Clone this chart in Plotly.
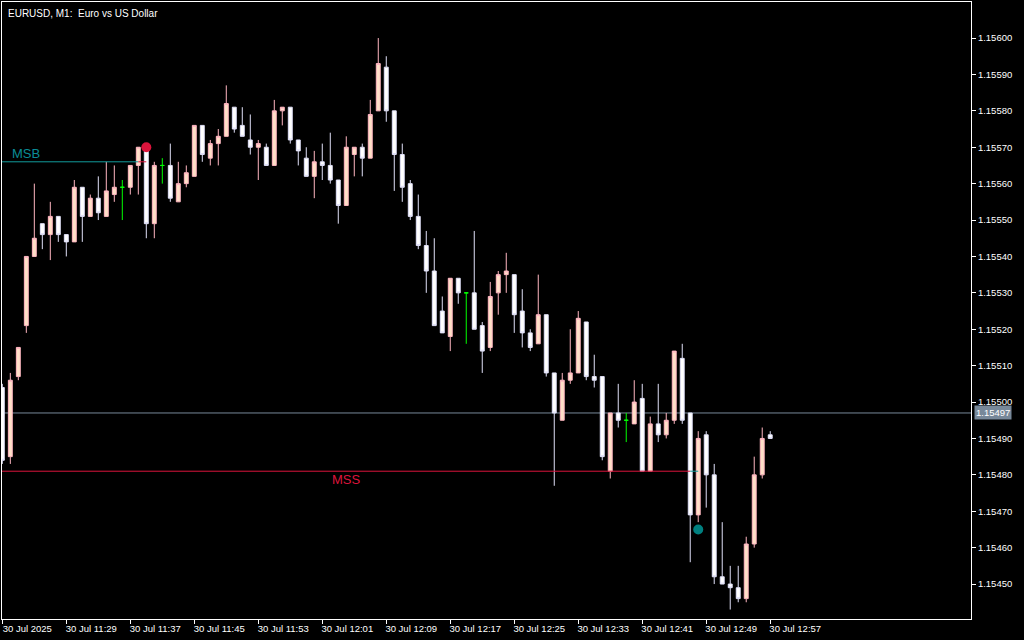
import plotly.graph_objects as go
import pandas as pd

# ---------------- data ----------------
start_time = "2025-07-30 11:21"
n_bars = 97
times = pd.date_range(start_time, periods=n_bars, freq="1min")

opens = [1.15504, 1.15485, 1.15507, 1.15521, 1.15540, 1.15549, 1.15546, 1.15551, 1.15546, 1.15544,
         1.15559, 1.15551, 1.15556, 1.15551, 1.15557, 1.15559, 1.15559, 1.15565, 1.15569, 1.15549,
         1.15565, 1.15565, 1.15555, 1.15560, 1.15562, 1.15576, 1.15567, 1.15571, 1.15573, 1.15581,
         1.15576, 1.15572, 1.15570, 1.15570, 1.15565, 1.15580, 1.15581, 1.15572, 1.15567, 1.15562,
         1.15566, 1.15565, 1.15561, 1.15554, 1.15568, 1.15570, 1.15567, 1.15580, 1.15592, 1.15580,
         1.15568, 1.15560, 1.15551, 1.15543, 1.15536, 1.15525, 1.15518, 1.15534, 1.15530, 1.15530,
         1.15521, 1.15515, 1.15530, 1.15535, 1.15535, 1.15525, 1.15519, 1.15516, 1.15524, 1.15508,
         1.15495, 1.15506, 1.15508, 1.15522, 1.15507, 1.15507, 1.15481, 1.15497, 1.15495, 1.15494,
         1.15501, 1.15481, 1.15494, 1.15491, 1.15495, 1.15512, 1.15497, 1.15469, 1.15491, 1.15480,
         1.15452, 1.15450, 1.15449, 1.15446, 1.15461, 1.15480, 1.15491]
highs = [1.15505, 1.15508, 1.15515, 1.15540, 1.15560, 1.15549, 1.15555, 1.15551, 1.15546, 1.15561,
         1.15559, 1.15557, 1.15562, 1.15566, 1.15565, 1.15561, 1.15565, 1.15570, 1.15570, 1.15566,
         1.15567, 1.15571, 1.15566, 1.15565, 1.15576, 1.15576, 1.15572, 1.15575, 1.15587, 1.15581,
         1.15581, 1.15579, 1.15572, 1.15571, 1.15583, 1.15581, 1.15581, 1.15572, 1.15570, 1.15569,
         1.15571, 1.15574, 1.15561, 1.15573, 1.15570, 1.15571, 1.15583, 1.15600, 1.15595, 1.15580,
         1.15571, 1.15561, 1.15557, 1.15547, 1.15545, 1.15529, 1.15534, 1.15534, 1.15530, 1.15547,
         1.15522, 1.15533, 1.15536, 1.15541, 1.15535, 1.15531, 1.15520, 1.15535, 1.15524, 1.15508,
         1.15508, 1.15520, 1.15525, 1.15522, 1.15513, 1.15507, 1.15497, 1.15505, 1.15497, 1.15506,
         1.15505, 1.15496, 1.15505, 1.15497, 1.15514, 1.15516, 1.15497, 1.15492, 1.15492, 1.15483,
         1.15467, 1.15455, 1.15455, 1.15463, 1.15485, 1.15493, 1.15492]
lows = [1.15483, 1.15483, 1.15506, 1.15519, 1.15540, 1.15542, 1.15539, 1.15544, 1.15540, 1.15544,
        1.15544, 1.15551, 1.15550, 1.15551, 1.15555, 1.15550, 1.15557, 1.15557, 1.15545, 1.15545,
        1.15560, 1.15555, 1.15555, 1.15559, 1.15562, 1.15566, 1.15565, 1.15565, 1.15573, 1.15574,
        1.15573, 1.15568, 1.15561, 1.15565, 1.15565, 1.15576, 1.15571, 1.15565, 1.15562, 1.15556,
        1.15561, 1.15560, 1.15549, 1.15554, 1.15562, 1.15562, 1.15567, 1.15580, 1.15577, 1.15558,
        1.15555, 1.15550, 1.15542, 1.15530, 1.15521, 1.15519, 1.15514, 1.15527, 1.15516, 1.15520,
        1.15508, 1.15514, 1.15524, 1.15530, 1.15519, 1.15515, 1.15514, 1.15516, 1.15507, 1.15477,
        1.15495, 1.15505, 1.15508, 1.15506, 1.15504, 1.15484, 1.15479, 1.15493, 1.15489, 1.15494,
        1.15481, 1.15481, 1.15489, 1.15490, 1.15494, 1.15494, 1.15456, 1.15467, 1.15471, 1.15450,
        1.15450, 1.15443, 1.15445, 1.15445, 1.15460, 1.15479, 1.15490]
closes = [1.15484, 1.15506, 1.15515, 1.15540, 1.15545, 1.15546, 1.15551, 1.15546, 1.15544, 1.15559,
          1.15551, 1.15556, 1.15552, 1.15558, 1.15559, 1.15559, 1.15565, 1.15570, 1.15549, 1.15565,
          1.15565, 1.15556, 1.15560, 1.15563, 1.15576, 1.15568, 1.15571, 1.15573, 1.15582, 1.15575,
          1.15573, 1.15570, 1.15571, 1.15565, 1.15580, 1.15581, 1.15572, 1.15569, 1.15562, 1.15566,
          1.15565, 1.15561, 1.15554, 1.15570, 1.15570, 1.15567, 1.15579, 1.15593, 1.15580, 1.15568,
          1.15559, 1.15551, 1.15543, 1.15536, 1.15521, 1.15519, 1.15534, 1.15530, 1.15530, 1.15520,
          1.15514, 1.15529, 1.15535, 1.15536, 1.15524, 1.15519, 1.15515, 1.15524, 1.15508, 1.15497,
          1.15506, 1.15508, 1.15523, 1.15507, 1.15506, 1.15485, 1.15497, 1.15495, 1.15495, 1.15500,
          1.15481, 1.15494, 1.15491, 1.15495, 1.15514, 1.15495, 1.15469, 1.15490, 1.15480, 1.15452,
          1.15450, 1.15449, 1.15446, 1.15461, 1.15480, 1.15490, 1.15490]

# structure levels (bar index of start/end, price)
msb_price = 1.15566
msb_end_bar = 17
msb_break_bar = 18
mss_price = 1.15481
mss_end_bar = 86
mss_break_bar = 87
msb_dot_bar, msb_dot_price = 18, 1.15570
mss_dot_bar, mss_dot_price = 87, 1.15465
current_price = 1.15497

tick_times = ["2025-07-30 11:21", "2025-07-30 11:29", "2025-07-30 11:37", "2025-07-30 11:45",
              "2025-07-30 11:53", "2025-07-30 12:01", "2025-07-30 12:09", "2025-07-30 12:17",
              "2025-07-30 12:25", "2025-07-30 12:33", "2025-07-30 12:41", "2025-07-30 12:49",
              "2025-07-30 12:57"]
tick_text = ["30 Jul 2025", "30 Jul 11:29", "30 Jul 11:37", "30 Jul 11:45", "30 Jul 11:53",
             "30 Jul 12:01", "30 Jul 12:09", "30 Jul 12:17", "30 Jul 12:25", "30 Jul 12:33",
             "30 Jul 12:41", "30 Jul 12:49", "30 Jul 12:57"]
price_ticks = [1.15450, 1.15460, 1.15470, 1.15480, 1.15490, 1.15500, 1.15510, 1.15520,
               1.15530, 1.15540, 1.15550, 1.15560, 1.15570, 1.15580, 1.15590, 1.15600]

# ---------------- styles ----------------
BG = "#000000"
BULL_LINE = "#FFB6C1"
BULL_FILL = "#FFE0C8"
BEAR_LINE = "#E0E0F8"
BEAR_FILL = "#FFFFFF"
DOJI = "#00FF00"
TEAL = "#0A8C96"
TEAL_LINE = "#129C9C"
RED = "#DC143C"
PRICE_LINE = "#778899"
FONT = "Liberation Sans"

bull = [i for i in range(n_bars) if closes[i] > opens[i]]
bear = [i for i in range(n_bars) if closes[i] < opens[i]]
doji = [i for i in range(n_bars) if closes[i] == opens[i]]


def pick(arr, idx):
    return [arr[i] for i in idx]


fig = go.Figure()


def add_candles(idx, line_color, fill_color):
    fig.add_trace(go.Candlestick(
        x=pick(times, idx), open=pick(opens, idx), high=pick(highs, idx),
        low=pick(lows, idx), close=pick(closes, idx),
        increasing=dict(line=dict(color=line_color, width=1), fillcolor=fill_color),
        decreasing=dict(line=dict(color=line_color, width=1), fillcolor=fill_color),
        whiskerwidth=0, showlegend=False, hoverinfo="skip"))


add_candles(bull, BULL_LINE, BULL_FILL)
add_candles(bear, BEAR_LINE, BEAR_FILL)
add_candles(doji, DOJI, DOJI)

# MSB level
fig.add_trace(go.Scatter(x=[times[0] - pd.Timedelta(minutes=1), times[msb_end_bar]],
                         y=[msb_price, msb_price], mode="lines",
                         line=dict(color=TEAL_LINE, width=1), showlegend=False, hoverinfo="skip"))
fig.add_trace(go.Scatter(x=[times[msb_end_bar], times[msb_break_bar]],
                         y=[msb_price, msb_price], mode="lines",
                         line=dict(color=RED, width=1), showlegend=False, hoverinfo="skip"))
# MSS level
fig.add_trace(go.Scatter(x=[times[0] - pd.Timedelta(minutes=1), times[mss_end_bar]],
                         y=[mss_price, mss_price], mode="lines",
                         line=dict(color=RED, width=1), showlegend=False, hoverinfo="skip"))
fig.add_trace(go.Scatter(x=[times[mss_end_bar], times[mss_break_bar]],
                         y=[mss_price, mss_price], mode="lines",
                         line=dict(color=TEAL_LINE, width=1), showlegend=False, hoverinfo="skip"))
# dots
fig.add_trace(go.Scatter(x=[times[msb_dot_bar]], y=[msb_dot_price], mode="markers",
                         marker=dict(color=RED, size=10, line=dict(width=0)),
                         showlegend=False, hoverinfo="skip"))
fig.add_trace(go.Scatter(x=[times[mss_dot_bar]], y=[mss_dot_price], mode="markers",
                         marker=dict(color="#008080", size=10, line=dict(width=0)),
                         showlegend=False, hoverinfo="skip"))

# current price line
fig.add_shape(type="line", xref="paper", x0=0, x1=1, yref="y", y0=current_price, y1=current_price,
              line=dict(color=PRICE_LINE, width=1), layer="below")

x_left = times[0] - pd.Timedelta(seconds=2.4)
x_right = times[0] + pd.Timedelta(minutes=121.1)

fig.update_layout(
    width=1024, height=640,
    paper_bgcolor=BG, plot_bgcolor=BG,
    margin=dict(l=2, r=53, t=2, b=21),
    showlegend=False,
    font=dict(family=FONT, color="#FFFFFF", size=9),
    xaxis=dict(
        type="date", range=[x_left, x_right], rangeslider=dict(visible=False),
        showgrid=False, zeroline=False,
        showline=True, linecolor="#FFFFFF", linewidth=1, mirror=True,
        ticks="outside", ticklen=4, tickcolor="#FFFFFF", tickwidth=1,
        tickvals=pd.to_datetime(tick_times), ticktext=tick_text,
        tickfont=dict(family=FONT, size=9.5, color="#FFFFFF"),
        ticklabelshift=25, ticklabelstandoff=-3,
    ),
    yaxis=dict(
        side="right", range=[1.154404, 1.156099],
        showgrid=False, zeroline=False,
        showline=True, linecolor="#FFFFFF", linewidth=1, mirror=True,
        ticks="outside", ticklen=4, tickcolor="#FFFFFF", tickwidth=1,
        tickvals=price_ticks, tickformat=".5f",
        tickfont=dict(family=FONT, size=9.5, color="#FFFFFF"),
    ),
    annotations=[
        dict(text="EURUSD, M1:\u00a0 Euro vs US Dollar", xref="paper", yref="paper",
             x=0, y=1, xanchor="left", yanchor="top", xshift=4, yshift=-4, showarrow=False,
             font=dict(family=FONT, size=10, color="#FFFFFF")),
        dict(text="MSB", xref="x", yref="y", x=times[1], y=msb_price,
             xanchor="left", yanchor="bottom", showarrow=False, yshift=-1,
             font=dict(family=FONT, size=13, color=TEAL)),
        dict(text="MSS", xref="x", yref="y", x=times[43], y=mss_price,
             xanchor="center", yanchor="top", showarrow=False, yshift=1,
             font=dict(family=FONT, size=13, color=RED)),
        dict(text=f"{current_price:.5f}", xref="paper", yref="y", x=1, y=current_price,
             xanchor="left", yanchor="middle", xshift=3, showarrow=False,
             bgcolor=PRICE_LINE, borderpad=1,
             font=dict(family=FONT, size=9.5, color="#FFFFFF")),
    ],
)

fig.write_html("out.html", config={"displayModeBar": False},
               post_script="document.body.style.margin='0';document.body.style.padding='0';")
